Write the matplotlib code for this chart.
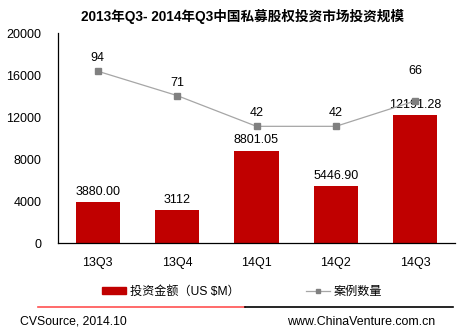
import matplotlib
matplotlib.use("Agg")
import matplotlib.pyplot as plt
from matplotlib.lines import Line2D
from matplotlib.patches import Patch

plt.rcParams['font.family'] = ['Liberation Sans', 'Noto Sans CJK SC', 'DejaVu Sans']

categories = ["13Q3", "13Q4", "14Q1", "14Q2", "14Q3"]
amounts = [3880.00, 3112, 8801.05, 5446.90, 12191.28]
amount_labels = ["3880.00", "3112", "8801.05", "5446.90", "12191.28"]
cases = [94, 71, 42, 42, 66]
yticks = [0, 4000, 8000, 12000, 16000, 20000]

W, H = 460, 335
fig = plt.figure(figsize=(W / 100, H / 100), dpi=100)
ax = fig.add_axes([58 / W, 1 - 243 / H, 397 / W, 210 / H])
x = list(range(len(categories)))

ax.bar(x, amounts, width=0.555, color='#C00000', zorder=2)
ax.set_xlim(-0.5, len(categories) - 0.5)
ax.set_ylim(0, 20000)
ax.set_yticks(yticks)
ax.set_yticklabels([str(t) for t in yticks], fontsize=9)
ax.set_xticks(x)
ax.set_xticklabels(categories, fontsize=9)
ax.tick_params(axis='y', length=0, pad=12)
ax.tick_params(axis='x', length=0, pad=10)
for s in ['top', 'right']:
    ax.spines[s].set_visible(False)
ax.spines['left'].set_linewidth(0.9)
ax.spines['bottom'].set_linewidth(0.9)
for xi, v, lab in zip(x, amounts, amount_labels):
    ax.annotate(lab, (xi, v), xytext=(0, 3), textcoords='offset points',
                ha='center', va='bottom', fontsize=9)

ax2 = ax.twinx()
ax2.set_ylim(-68, 130)
ax2.plot(x, cases, color='#A6A6A6', linewidth=0.9, marker='s', markersize=4,
         markerfacecolor='#808080', markeredgecolor='#808080', zorder=3)
ax2.axis('off')
for i, (xi, v) in enumerate(zip(x, cases)):
    dy = 17 if i == len(cases) - 1 else 5
    ax2.annotate(str(v), (xi, v), xytext=(0, dy), textcoords='offset points',
                 ha='center', va='bottom', fontsize=9)

fig.text(243 / W, 1 - 16 / H, "2013年Q3- 2014年Q3中国私募股权投资市场投资规模",
         ha='center', va='center', fontsize=9.8, fontweight='bold',
         family=['Liberation Sans', 'Noto Sans CJK SC'])

handles = [Patch(color='#C00000'),
           Line2D([0], [0], color='#A6A6A6', marker='s', markersize=3,
                  markerfacecolor='#808080', markeredgecolor='#808080', linewidth=0.9)]
fig.legend(handles, ["投资金额（US $M）", "案例数量"], loc='center',
           bbox_to_anchor=(242 / W, 1 - 292 / H), ncol=2, frameon=False,
           fontsize=8.7, handlelength=2.0, handleheight=0.5, columnspacing=5.5,
           handletextpad=0.3)

fig.add_artist(Line2D([38 / W, 245 / W], [1 - 307 / H] * 2, color='#FF5050', linewidth=1.2))
fig.add_artist(Line2D([245 / W, 453 / W], [1 - 307 / H] * 2, color='#000000', linewidth=1.2))
fig.text(20 / W, 1 - 322 / H, "CVSource, 2014.10", ha='left', va='center', fontsize=8.8)
fig.text(435 / W, 1 - 322 / H, "www.ChinaVenture.com.cn", ha='right', va='center', fontsize=8.9)

fig.savefig("out.png", dpi=100)
